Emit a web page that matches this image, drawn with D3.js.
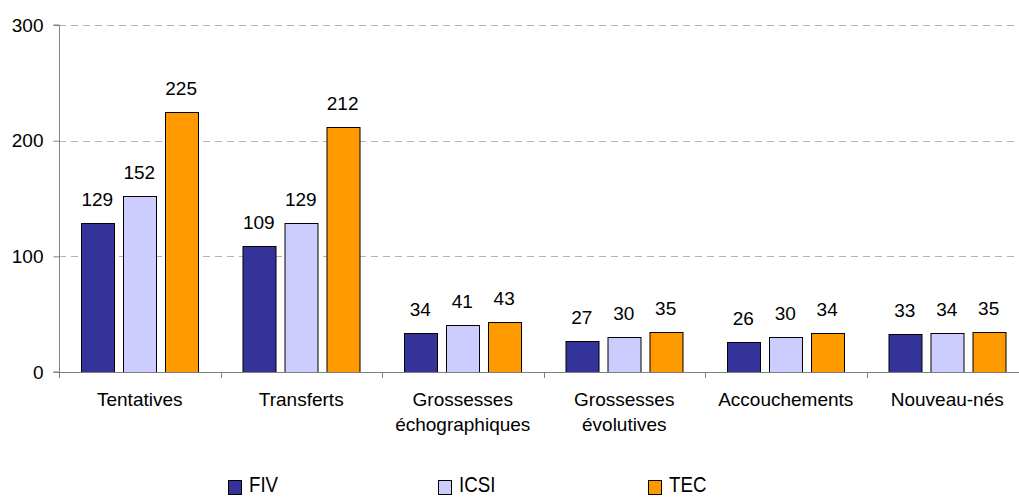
<!DOCTYPE html>
<html>
<head>
<meta charset="utf-8">
<script src="https://cdn.jsdelivr.net/npm/d3@7"></script>
<style>
  html, body { margin: 0; padding: 0; background: #fff; overflow: hidden; }
  svg { display: block; font-family: Arial, "Liberation Sans", sans-serif; }
</style>
</head>
<body>
<div id="chart"></div>
<script>
// chart data
const categories = [
  ['Tentatives'],
  ['Transferts'],
  ['Grossesses', 'échographiques'],
  ['Grossesses', 'évolutives'],
  ['Accouchements'],
  ['Nouveau-nés']
]
const series = ['FIV', 'ICSI', 'TEC']
const FIV  = [129, 109, 34, 27, 26, 33]
const ICSI = [152, 129, 41, 30, 30, 34]
const TEC  = [225, 212, 43, 35, 34, 35]
const yTicks = [0, 100, 200, 300]

const values = { FIV, ICSI, TEC }
const colors = { FIV: '#333399', ICSI: '#ccccff', TEC: '#ff9900' }

const W = 1019, H = 497
const box = { left: 59, right: 1028, top: 25, bottom: 372 }

const svg = d3.select('#chart').append('svg')
  .attr('width', W).attr('height', H)

const y = d3.scaleLinear().domain([0, 300]).range([box.bottom, box.top])
const x0 = d3.scaleBand()
  .domain(d3.range(categories.length))
  .range([box.left, box.right])
const x1 = d3.scaleBand()
  .domain(series)
  .range([22, x0.bandwidth() - 23])
  .paddingInner(0.22)

// gridlines
svg.append('g')
  .selectAll('line')
  .data(yTicks.filter(d => d > 0))
  .join('line')
  .attr('x1', box.left).attr('x2', W)
  .attr('y1', d => Math.round(y(d)) + 0.5).attr('y2', d => Math.round(y(d)) + 0.5)
  .attr('stroke', '#b4b4b4')
  .attr('stroke-dasharray', '7,5')

// bars
const groups = svg.append('g')
  .selectAll('g')
  .data(categories.map((c, i) => i))
  .join('g')
  .attr('transform', i => `translate(${x0(i)},0)`)

groups.selectAll('rect')
  .data(i => series.map(s => ({ s, v: values[s][i] })))
  .join('rect')
  .attr('x', d => Math.round(x1(d.s)) + 0.5)
  .attr('y', d => Math.round(y(d.v)) + 0.5)
  .attr('width', Math.round(x1.bandwidth()))
  .attr('height', d => Math.round(y(0)) - Math.round(y(d.v)))
  .attr('fill', d => colors[d.s])
  .attr('stroke', '#000')
  .attr('stroke-width', 1)

groups.selectAll('text')
  .data(i => series.map(s => ({ s, v: values[s][i] })))
  .join('text')
  .attr('x', d => x1(d.s) + x1.bandwidth() / 2)
  .attr('y', d => y(d.v) - 17)
  .attr('text-anchor', 'middle')
  .attr('font-size', 19)
  .attr('fill', '#000')
  .text(d => d.v)

// y axis
const yAxis = svg.append('g')
  .attr('transform', `translate(${box.left + 0.5},0)`)
  .call(d3.axisLeft(y).tickValues(yTicks).tickSize(6).tickPadding(10))
yAxis.select('.domain').attr('stroke', '#808080').attr('d', `M-6,${y(300)}H0V${y(0)}H-6`)
yAxis.selectAll('.tick line').attr('stroke', '#808080')
yAxis.selectAll('.tick text').attr('font-size', 19).attr('fill', '#000')
  .attr('font-family', 'Arial, "Liberation Sans", sans-serif')

// x axis
svg.append('line')
  .attr('x1', box.left).attr('x2', W)
  .attr('y1', box.bottom + 0.5).attr('y2', box.bottom + 0.5)
  .attr('stroke', '#808080')
svg.append('g')
  .selectAll('line')
  .data(d3.range(categories.length + 1))
  .join('line')
  .attr('x1', i => Math.round(box.left + i * x0.step()) + 0.5)
  .attr('x2', i => Math.round(box.left + i * x0.step()) + 0.5)
  .attr('y1', box.bottom).attr('y2', box.bottom + 6)
  .attr('stroke', '#808080')

svg.append('g')
  .selectAll('text')
  .data(categories.map((c, i) => ({ c, i })))
  .join('text')
  .attr('x', d => x0(d.i) + x0.bandwidth() / 2)
  .attr('y', 406)
  .attr('text-anchor', 'middle')
  .attr('font-size', 19)
  .attr('fill', '#000')
  .selectAll('tspan')
  .data(d => d.c.map(line => ({ line, x: x0(d.i) + x0.bandwidth() / 2 })))
  .join('tspan')
  .attr('x', d => d.x)
  .attr('dy', (d, j) => j === 0 ? 0 : 25)
  .text(d => d.line)

// legend
const lx = d3.scalePoint().domain(series).range([228, 648])
const legend = svg.append('g')
  .selectAll('g')
  .data(series)
  .join('g')
  .attr('transform', s => `translate(${lx(s)},0)`)
legend.append('rect')
  .attr('x', 0.5).attr('y', 480.5)
  .attr('width', 13).attr('height', 14)
  .attr('fill', s => colors[s])
  .attr('stroke', '#000')
legend.append('text')
  .attr('transform', 'translate(21,492) scale(0.85,1)')
  .attr('font-size', 22)
  .attr('fill', '#000')
  .text(s => s)
</script>
</body>
</html>
